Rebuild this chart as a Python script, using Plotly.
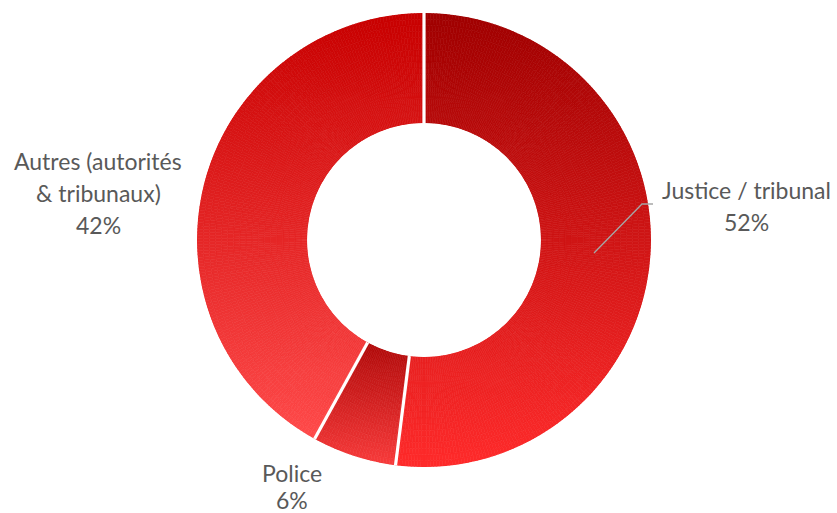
import numpy as np
import plotly.graph_objects as go

# ---- data ----
categories = ["Justice / tribunal", "Police", "Autres (autorités & tribunaux)"]
values = [52, 6, 42]
percent_labels = ["52%", "6%", "42%"]
label_lines = [["Justice / tribunal", "52%"], ["Police", "6%"], ["Autres (autorités", "& tribunaux)", "42%"]]

# ---- style ----
W, H = 837, 513
CX, CY, R = 424, 240, 227
HOLE = 0.515
gradients = [((160, 0, 0), (255, 43, 43)),      # Justice: top -> bottom
             ((176, 10, 10), (248, 60, 60)),    # Police
             ((200, 0, 0), (255, 74, 74))]      # Autres
text_pos = [[(746, 190), (746, 222)],
            [(292, 473), (292, 500)],
            [(98, 161), (98, 193), (98, 225)]]
TXT = "#595959"
FONT = "Lato"

fig = go.Figure()
total = float(sum(values))
start = 0.0
n_r = 18
boundaries = []
for cat, v, (c0, c1) in zip(categories, values, gradients):
    span = v / total * 360.0
    end = start + span
    boundaries.append(start)
    n_t = max(6, int(np.ceil(span / 0.8)))
    dth = span / n_t
    th_c = start + dth * (np.arange(n_t) + 0.5)
    r_edges = np.linspace(0, 1, n_r + 1)
    r0 = r_edges[:-1]
    dr = r_edges[1:] - r_edges[:-1]
    # bounding box of the slice in pixel y
    ths = np.radians(np.linspace(start, end, 400))
    rr = np.array([R * HOLE, R])
    ys = CY - np.outer(rr, np.cos(ths))
    ymin, ymax = ys.min(), ys.max()
    T, RB = np.meshgrid(th_c, np.arange(n_r), indexing="ij")
    T = T.ravel(); RB = RB.ravel()
    rc = r0[RB] + dr[RB] / 2
    rp = R * (HOLE + (1 - HOLE) * rc)
    yc = CY - rp * np.cos(np.radians(T))
    t = np.clip((yc - ymin) / (ymax - ymin), 0, 1)
    cols = ["rgb(%d,%d,%d)" % tuple(int(round(a + (b - a) * tt)) for a, b in zip(c0, c1)) for tt in t]
    fig.add_trace(go.Barpolar(
        theta=T, width=np.full(T.shape, dth), base=r0[RB], r=dr[RB],
        marker=dict(color=cols, line=dict(color=cols, width=0.6)),
        name=cat, hoverinfo="skip", showlegend=False))
    start = end

# white separators between slices
for b in boundaries:
    fig.add_trace(go.Scatterpolar(theta=[b, b], r=[-0.02, 1.02], mode="lines",
                                  line=dict(color="white", width=3.2),
                                  hoverinfo="skip", showlegend=False))

annotations = []
for lines, poss in zip(label_lines, text_pos):
    for txt, (px, py) in zip(lines, poss):
        annotations.append(dict(x=px / W, y=1 - py / H, xref="paper", yref="paper",
                                text=txt, showarrow=False, xanchor="center", yanchor="middle",
                                font=dict(family=FONT, size=23, color=TXT)))

# leader line for Justice label
pts = [(594, 253), (642, 204), (653, 204)]
path = "M " + " L ".join("%f,%f" % (x / W, 1 - y / H) for x, y in pts)
shapes = [dict(type="path", path=path, xref="paper", yref="paper",
               line=dict(color="#A6A6A6", width=1.3))]

fig.update_layout(
    width=W, height=H, margin=dict(l=0, r=0, t=0, b=0),
    paper_bgcolor="white", plot_bgcolor="white",
    polar=dict(
        domain=dict(x=[(CX - R) / W, (CX + R) / W], y=[(H - CY - R) / H, (H - CY + R) / H]),
        hole=HOLE, bgcolor="rgba(0,0,0,0)", barmode="overlay", bargap=0,
        radialaxis=dict(visible=False, range=[0, 1]),
        angularaxis=dict(visible=False, rotation=90, direction="clockwise"),
    ),
    annotations=annotations, shapes=shapes, showlegend=False,
)
fig.write_html("out.html")
